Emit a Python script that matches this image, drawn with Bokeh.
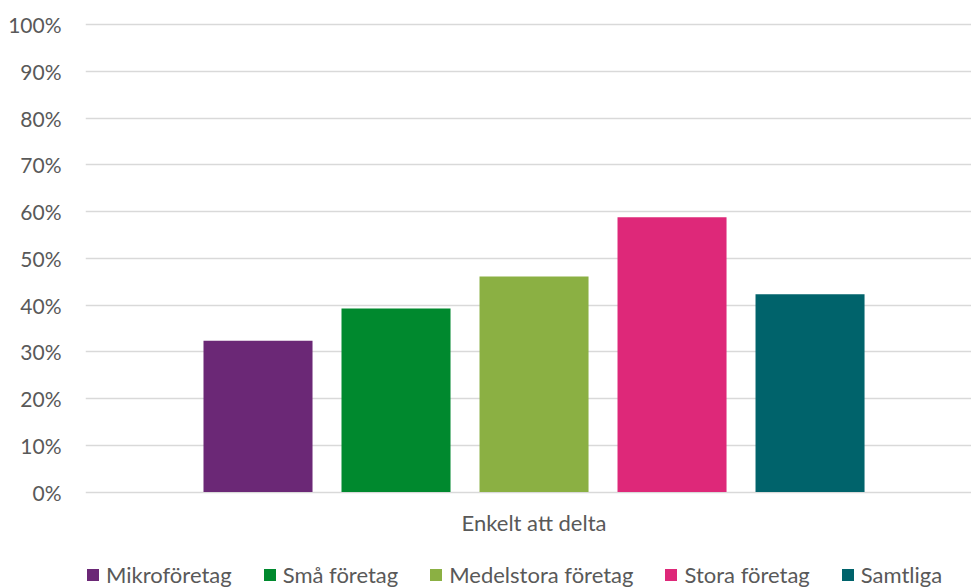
from bokeh.plotting import figure
from bokeh.models import (ColumnDataSource, Range1d, FixedTicker, NumeralTickFormatter,
                          Legend, LegendItem)
from bokeh.core.properties import value
from bokeh.embed import file_html
from bokeh.resources import INLINE

category = "Enkelt att delta"
series = ["Mikroföretag", "Små företag", "Medelstora företag", "Stora företag", "Samtliga"]
values = [0.324, 0.393, 0.461, 0.588, 0.423]
colors = ["#6B2876", "#00892E", "#8BB043", "#DE2879", "#00636B"]
y_ticks = [i / 10 for i in range(11)]

src = ColumnDataSource(dict(x=list(range(len(series))), top=values, color=colors, name=series))

# pixel geometry of the frame: 0% at y=491.5, 100% at y=24.3
PX_PER_UNIT = 467.2
TOP, BOTTOM0, H = 20, 491.5, 588
y_end = (BOTTOM0 - TOP) / PX_PER_UNIT
y_start = -(H - BOTTOM0) / PX_PER_UNIT

p = figure(width=971, height=588, output_backend="svg", toolbar_location=None,
           x_axis_location=None,
           x_range=Range1d(-1.25, 5.17), y_range=Range1d(y_start, y_end),
           min_border_left=85, min_border_right=0, min_border_top=TOP, min_border_bottom=0)
p.outline_line_color = None
p.background_fill_color = "white"
p.border_fill_color = "white"

r = p.vbar(x="x", top="top", bottom=0, width=0.79, fill_color="color", line_color=None, source=src)

FONT = "Lato"
GREY = "#595959"

p.yaxis.ticker = FixedTicker(ticks=y_ticks)
p.yaxis.formatter = NumeralTickFormatter(format="0%")
p.yaxis.axis_line_color = None
p.yaxis.major_tick_line_color = None
p.yaxis.minor_tick_line_color = None
p.yaxis.major_label_standoff = 18
p.yaxis.major_label_text_font = FONT
p.yaxis.major_label_text_font_size = "21px"
p.yaxis.major_label_text_color = GREY

p.xgrid.grid_line_color = None
p.ygrid.ticker = FixedTicker(ticks=y_ticks)
p.ygrid.grid_line_color = "#D9D9D9"
p.ygrid.grid_line_width = 1.5

# category label below the bars
p.text(x=[(len(series) - 1) / 2], y=[-30.5 / PX_PER_UNIT], text=[category],
       text_align="center", text_baseline="middle", text_font=value(FONT),
       text_font_size="22px", text_color=GREY)

items = [LegendItem(label=s, renderers=[r], index=i) for i, s in enumerate(series)]
legend = Legend(items=items, orientation="horizontal", location=(0, 0),
                glyph_width=15, glyph_height=15, label_height=20, label_standoff=6,
                spacing=30, padding=0, margin=0, border_line_color=None,
                background_fill_alpha=0,
                label_text_font=FONT, label_text_font_size="22px", label_text_color=GREY)
p.add_layout(legend, "center")

open("out.html", "w").write(file_html(p, INLINE))
